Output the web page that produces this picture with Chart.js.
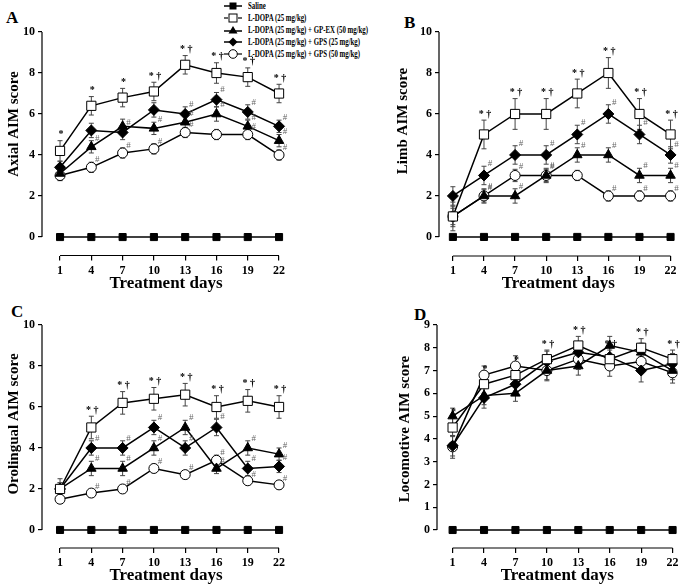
<!DOCTYPE html>
<html>
<head>
<meta charset="utf-8">
<script src="https://cdn.jsdelivr.net/npm/chart.js@4.4.1/dist/chart.umd.min.js"></script>
<style>
  body { margin: 0; background: #fff; width: 685px; height: 587px; position: relative; overflow: hidden; font-family: "Liberation Serif", serif; }
  .panel { position: absolute; }
  .letter { position: absolute; font: bold 17px "Liberation Serif", serif; line-height: 1; }
  #legend { position: absolute; left: 224px; top: 0px; font: bold 9.5px "Liberation Serif", serif; }
  #legend .row { height: 11.9px; display: flex; align-items: center; white-space: nowrap; }
  #legend svg { margin-right: 6px; }
  #legend span { display: inline-block; transform: scaleX(0.72); transform-origin: left center; }
</style>
</head>
<body>
<div id="legend">
  <div class="row"><svg width="18" height="10"><line x1="0" y1="5" x2="18" y2="5" stroke="#000" stroke-width="1.5"/><rect x="5.5" y="1.5" width="7" height="7" fill="#000"/></svg><span>Saline</span></div>
  <div class="row"><svg width="18" height="10"><line x1="0" y1="5" x2="4" y2="5" stroke="#000" stroke-width="1.2"/><line x1="14" y1="5" x2="18" y2="5" stroke="#000" stroke-width="1.2"/><rect x="5" y="1" width="8" height="8" fill="#fff" stroke="#000" stroke-width="1"/></svg><span>L-DOPA (25 mg/kg)</span></div>
  <div class="row"><svg width="18" height="10"><line x1="0" y1="6" x2="18" y2="6" stroke="#000" stroke-width="1.5"/><polygon points="9,1 13.5,8.5 4.5,8.5" fill="#000"/></svg><span>L-DOPA (25 mg/kg) + GP-EX (50 mg/kg)</span></div>
  <div class="row"><svg width="18" height="10"><line x1="0" y1="5" x2="18" y2="5" stroke="#000" stroke-width="1.5"/><polygon points="9,0.5 13.5,5 9,9.5 4.5,5" fill="#000"/></svg><span>L-DOPA (25 mg/kg) + GPS (25 mg/kg)</span></div>
  <div class="row"><svg width="18" height="10"><line x1="0" y1="5" x2="18" y2="5" stroke="#000" stroke-width="1.2"/><circle cx="9" cy="5" r="4.3" fill="#fff" stroke="#000" stroke-width="1"/></svg><span>L-DOPA (25 mg/kg) + GPS (50 mg/kg)</span></div>
</div>

<div class="letter" style="left:6px;top:9px">A</div>
<div class="letter" style="left:404px;top:14px">B</div>
<div class="letter" style="left:11px;top:303px">C</div>
<div class="letter" style="left:414px;top:306px">D</div>

<div class="panel" style="left:0px;top:0px"><canvas id="chartA" width="340" height="295"></canvas></div>
<div class="panel" style="left:340px;top:0px"><canvas id="chartB" width="345" height="295"></canvas></div>
<div class="panel" style="left:0px;top:295px"><canvas id="chartC" width="340" height="292"></canvas></div>
<div class="panel" style="left:340px;top:295px"><canvas id="chartD" width="345" height="292"></canvas></div>

<script>
// Data
const days = [1, 4, 7, 10, 13, 16, 19, 22];
const saline = [0, 0, 0, 0, 0, 0, 0, 0];

// A - Axial AIM
const axialLdopa = [4.2, 6.4, 6.8, 7.1, 8.4, 8.0, 7.8, 7.0];
const axialGpEx  = [3.1, 4.4, 5.4, 5.3, 5.6, 6.0, 5.4, 4.7];
const axialGps25 = [3.4, 5.2, 5.1, 6.2, 6.0, 6.7, 6.1, 5.4];
const axialGps50 = [3.0, 3.4, 4.1, 4.3, 5.1, 5.0, 5.0, 4.0];
const axialLdopaErr = [0.5, 0.45, 0.45, 0.45, 0.45, 0.5, 0.45, 0.45];
const axialGpExErr  = [0.3, 0.3, 0.35, 0.3, 0.3, 0.35, 0.3, 0.3];
const axialGps25Err = [0.3, 0.35, 0.35, 0.35, 0.35, 0.35, 0.35, 0.3];
const axialGps50Err = [0.25, 0.25, 0.25, 0.25, 0.25, 0.25, 0.25, 0.25];

// B - Limb AIM
const limbLdopa = [1, 5, 6, 6, 7, 8, 6, 5];
const limbGpEx  = [1, 2, 2, 3, 4, 4, 3, 3];
const limbGps25 = [2, 3, 4, 4, 5, 6, 5, 4];
const limbGps50 = [1, 2, 3, 3, 3, 2, 2, 2];
const limbLdopaErr = [0.7, 0.7, 0.75, 0.75, 0.7, 0.75, 0.75, 0.7];
const limbGpExErr  = [0.4, 0.35, 0.35, 0.35, 0.35, 0.35, 0.35, 0.35];
const limbGps25Err = [0.45, 0.45, 0.45, 0.45, 0.45, 0.45, 0.45, 0.4];
const limbGps50Err = [0.5, 0.3, 0.3, 0.3, 0.25, 0.25, 0.25, 0.25];

// C - Orolingual AIM
const oroLdopa = [2.0, 5.0, 6.2, 6.4, 6.6, 6.0, 6.3, 6.0];
const oroGpEx  = [2.0, 3.0, 3.0, 4.0, 5.0, 3.0, 4.0, 3.7];
const oroGps25 = [2.0, 4.0, 4.0, 5.0, 4.0, 5.0, 3.0, 3.1];
const oroGps50 = [1.5, 1.8, 2.0, 3.0, 2.7, 3.4, 2.4, 2.2];
const oroLdopaErr = [0.5, 0.55, 0.55, 0.55, 0.55, 0.55, 0.55, 0.55];
const oroGpExErr  = [0.3, 0.35, 0.35, 0.35, 0.35, 0.25, 0.35, 0.3];
const oroGps25Err = [0.3, 0.35, 0.35, 0.35, 0.35, 0.4, 0.35, 0.3];
const oroGps50Err = [0.2, 0.2, 0.2, 0.2, 0.2, 0.25, 0.2, 0.2];

// D - Locomotive AIM
const locoLdopa = [4.5, 6.4, 6.8, 7.5, 8.1, 7.5, 8.0, 7.5];
const locoGpEx  = [5.0, 5.9, 6.0, 7.0, 7.2, 8.1, 7.8, 7.0];
const locoGps25 = [3.7, 5.8, 6.4, 7.4, 7.8, 7.6, 7.0, 7.3];
const locoGps50 = [3.65, 6.8, 7.2, 7.0, 7.5, 7.2, 7.4, 6.9];
const locoLdopaErr = [0.4, 0.4, 0.4, 0.4, 0.4, 0.4, 0.4, 0.4];
const locoGpExErr  = [0.35, 0.4, 0.35, 0.4, 0.4, 0.4, 0.4, 0.4];
const locoGps25Err = [0.45, 0.45, 0.45, 0.45, 0.45, 0.45, 0.5, 0.45];
const locoGps50Err = [0.5, 0.4, 0.45, 0.45, 0.45, 0.45, 0.45, 0.45];

// Significance marks
const axialLdopaMarks = ['*', '*', '*', '* †', '* †', '* †', '* †', '* †'];
const axialGpExMarks  = ['', '#', '', '#', '#', '#', '#', '#'];
const axialGps25Marks = ['', '', '#', '', '#', '#', '#', '#'];
const axialGps50Marks = ['', '#', '#', '#', '#', '', '#', '#'];
const limbLdopaMarks = ['', '* †', '* †', '* †', '* †', '* †', '* †', '* †'];
const limbGpExMarks  = ['', '#', '#', '#', '#', '#', '#', '#'];
const limbGps25Marks = ['', '#', '#', '#', '#', '#', '#', '#'];
const limbGps50Marks = ['', '#', '#', '#', '', '#', '#', '#'];
const oroLdopaMarks = ['', '* †', '* †', '* †', '* †', '* †', '* †', '* †'];
const oroGpExMarks  = ['', '#', '#', '#', '#', '#', '#', '#'];
const oroGps25Marks = ['', '#', '#', '#', '#', '#', '#', '#'];
const oroGps50Marks = ['', '#', '#', '#', '#', '#', '#', '#'];
const locoLdopaMarks = ['*', '*', '*', '* †', '* †', '* †', '* †', '* †'];

const serif = '"Liberation Serif", "Times New Roman", serif';

function pts(vals) {
    return days.map((d, i) => ({ x: d, y: vals[i] }));
}

function series(vals, style, errs, marks) {
    const s = {
        saline: { pointStyle: 'rect', pointRadius: 5, bg: '#000' },
        ldopa: { pointStyle: 'rect', pointRadius: 6.5, bg: '#fff' },
        gpex: { pointStyle: 'triangle', pointRadius: 5.5, bg: '#000' },
        gps25: { pointStyle: 'rectRot', pointRadius: 5.5, bg: '#000' },
        gps50: { pointStyle: 'circle', pointRadius: 5, bg: '#fff' }
    }[style];
    return {
        data: pts(vals),
        borderColor: '#000',
        borderWidth: 1.5,
        pointStyle: s.pointStyle,
        pointRadius: s.pointRadius,
        pointBackgroundColor: s.bg,
        pointBorderColor: '#000',
        pointBorderWidth: 1,
        fill: false,
        tension: 0,
        errors: errs || null,
        marks: marks || null,
        markType: style === 'ldopa' ? 'star' : 'hash'
    };
}

// error bars, axis lines, y titles and significance marks
const extrasPlugin = {
    id: 'extras',
    beforeDatasetsDraw(chart) {
        const ctx = chart.ctx;
        const ys = chart.scales.y;
        ctx.save();
        ctx.strokeStyle = '#444';
        ctx.lineWidth = 1;
        chart.data.datasets.forEach((ds, di) => {
            if (!ds.errors) return;
            const meta = chart.getDatasetMeta(di);
            meta.data.forEach((pt, i) => {
                const v = ds.data[i].y;
                const yTop = ys.getPixelForValue(v + ds.errors[i]);
                const yBot = ys.getPixelForValue(v - ds.errors[i]);
                ctx.beginPath();
                ctx.moveTo(pt.x, yTop);
                ctx.lineTo(pt.x, yBot);
                ctx.moveTo(pt.x - 2.5, yTop);
                ctx.lineTo(pt.x + 2.5, yTop);
                ctx.moveTo(pt.x - 2.5, yBot);
                ctx.lineTo(pt.x + 2.5, yBot);
                ctx.stroke();
            });
        });
        ctx.restore();
    },
    afterDatasetsDraw(chart) {
        const ctx = chart.ctx;
        const xs = chart.scales.x;
        const ys = chart.scales.y;
        const area = chart.chartArea;
        const opts = chart.options.plugins.extras;
        ctx.save();
        // axis lines
        ctx.strokeStyle = '#000';
        ctx.lineWidth = 1.2;
        ctx.beginPath();
        ctx.moveTo(area.left, ys.getPixelForValue(0));
        ctx.lineTo(area.left, ys.getPixelForValue(ys.max));
        ctx.moveTo(xs.getPixelForValue(days[0]), area.bottom);
        ctx.lineTo(xs.getPixelForValue(days[days.length - 1]), area.bottom);
        ctx.stroke();
        // y title
        ctx.save();
        ctx.translate(opts.titleX, opts.titleY);
        ctx.rotate(-Math.PI / 2);
        ctx.fillStyle = '#000';
        ctx.font = 'bold 15px ' + serif;
        ctx.textAlign = 'center';
        ctx.textBaseline = 'middle';
        ctx.fillText(opts.title, 0, 0);
        ctx.restore();
        // marks
        ctx.textAlign = 'center';
        ctx.textBaseline = 'bottom';
        chart.data.datasets.forEach((ds, di) => {
            if (!ds.marks) return;
            const meta = chart.getDatasetMeta(di);
            meta.data.forEach((pt, i) => {
                const m = ds.marks[i];
                if (!m) return;
                const yTop = ys.getPixelForValue(ds.data[i].y + (ds.errors ? ds.errors[i] : 0));
                if (ds.markType === 'star') {
                    ctx.fillStyle = '#000';
                    ctx.font = 'bold 10px ' + serif;
                    ctx.fillText(m, pt.x + 1, yTop - 1);
                } else {
                    ctx.fillStyle = '#666';
                    ctx.font = '9px ' + serif;
                    ctx.fillText(m, pt.x + 6, yTop + 2);
                }
            });
        });
        ctx.restore();
    }
};

function makePanel(id, cfg) {
    const ctx = document.getElementById(id);
    return new Chart(ctx, {
        type: 'line',
        data: { datasets: cfg.datasets },
        options: {
            responsive: false,
            animation: false,
            events: [],
            layout: { padding: cfg.padding },
            plugins: {
                legend: { display: false },
                tooltip: { enabled: false },
                extras: { title: cfg.yTitle, titleX: cfg.yTitleX, titleY: cfg.yTitleY }
            },
            scales: {
                x: {
                    type: 'linear',
                    min: cfg.xMin,
                    max: cfg.xMax,
                    afterBuildTicks: s => { s.ticks = days.map(v => ({ value: v })); },
                    afterFit: s => { s.height = cfg.xHeight; },
                    border: { display: false },
                    grid: { drawOnChartArea: false, drawTicks: true, tickLength: 5, color: '#000', lineWidth: 1.2 },
                    ticks: { color: '#000', font: { family: serif, size: 12, weight: 'bold' }, padding: 3, maxRotation: 0 },
                    title: { display: true, text: 'Treatment days', color: '#000', font: { family: serif, size: 17, weight: 'bold' }, padding: { top: 0, bottom: 1 } }
                },
                y: {
                    min: cfg.yMin,
                    max: cfg.yMax,
                    afterBuildTicks: s => { s.ticks = cfg.yTicks.map(v => ({ value: v })); },
                    afterFit: s => { s.width = cfg.yWidth; },
                    border: { display: false },
                    grid: { drawOnChartArea: false, drawTicks: true, tickLength: 4, color: '#000', lineWidth: 1.2 },
                    ticks: { color: '#000', font: { family: serif, size: 12, weight: 'bold' }, padding: 3 }
                }
            }
        },
        plugins: [extrasPlugin]
    });
}

const ticks10 = [0, 2, 4, 6, 8, 10];
const ticks9 = [0, 1, 2, 3, 4, 5, 6, 7, 8, 9];

makePanel('chartA', {
    padding: { left: 0, top: 32, right: 50, bottom: 0 },
    xMin: -0.73, xMax: 23.05, xHeight: 39.5,
    yMin: -0.9, yMax: 10, yTicks: ticks10, yWidth: 42,
    yTitle: 'Axial AIM score', yTitleX: 14, yTitleY: 124,
    datasets: [
        series(saline, 'saline'),
        series(axialLdopa, 'ldopa', axialLdopaErr, axialLdopaMarks),
        series(axialGpEx, 'gpex', axialGpExErr, axialGpExMarks),
        series(axialGps25, 'gps25', axialGps25Err, axialGps25Marks),
        series(axialGps50, 'gps50', axialGps50Err, axialGps50Marks)
    ]
});

makePanel('chartB', {
    padding: { left: 52, top: 32, right: 5, bottom: 0 },
    xMin: -0.34, xMax: 22.67, xHeight: 39,
    yMin: -0.93, yMax: 10, yTicks: ticks10, yWidth: 47,
    yTitle: 'Limb AIM score', yTitleX: 63, yTitleY: 121,
    datasets: [
        series(saline, 'saline'),
        series(limbLdopa, 'ldopa', limbLdopaErr, limbLdopaMarks),
        series(limbGpEx, 'gpex', limbGpExErr, limbGpExMarks),
        series(limbGps25, 'gps25', limbGps25Err, limbGps25Marks),
        series(limbGps50, 'gps50', limbGps50Err, limbGps50Marks)
    ]
});

makePanel('chartC', {
    padding: { left: 0, top: 30, right: 50, bottom: 0 },
    xMin: -0.73, xMax: 23.05, xHeight: 39,
    yMin: -0.88, yMax: 10, yTicks: ticks10, yWidth: 42,
    yTitle: 'Orolingual AIM score', yTitleX: 14, yTitleY: 129,
    datasets: [
        series(saline, 'saline'),
        series(oroLdopa, 'ldopa', oroLdopaErr, oroLdopaMarks),
        series(oroGpEx, 'gpex', oroGpExErr, oroGpExMarks),
        series(oroGps25, 'gps25', oroGps25Err, oroGps25Marks),
        series(oroGps50, 'gps50', oroGps50Err, oroGps50Marks)
    ]
});

makePanel('chartD', {
    padding: { left: 55, top: 30, right: 2, bottom: 0 },
    xMin: -0.49, xMax: 22.47, xHeight: 39,
    yMin: -0.79, yMax: 9, yTicks: ticks9, yWidth: 42,
    yTitle: 'Locomotive AIM score', yTitleX: 65, yTitleY: 134,
    datasets: [
        series(saline, 'saline'),
        series(locoLdopa, 'ldopa', locoLdopaErr, locoLdopaMarks),
        series(locoGpEx, 'gpex', locoGpExErr),
        series(locoGps25, 'gps25', locoGps25Err),
        series(locoGps50, 'gps50', locoGps50Err)
    ]
});
</script>
</body>
</html>
